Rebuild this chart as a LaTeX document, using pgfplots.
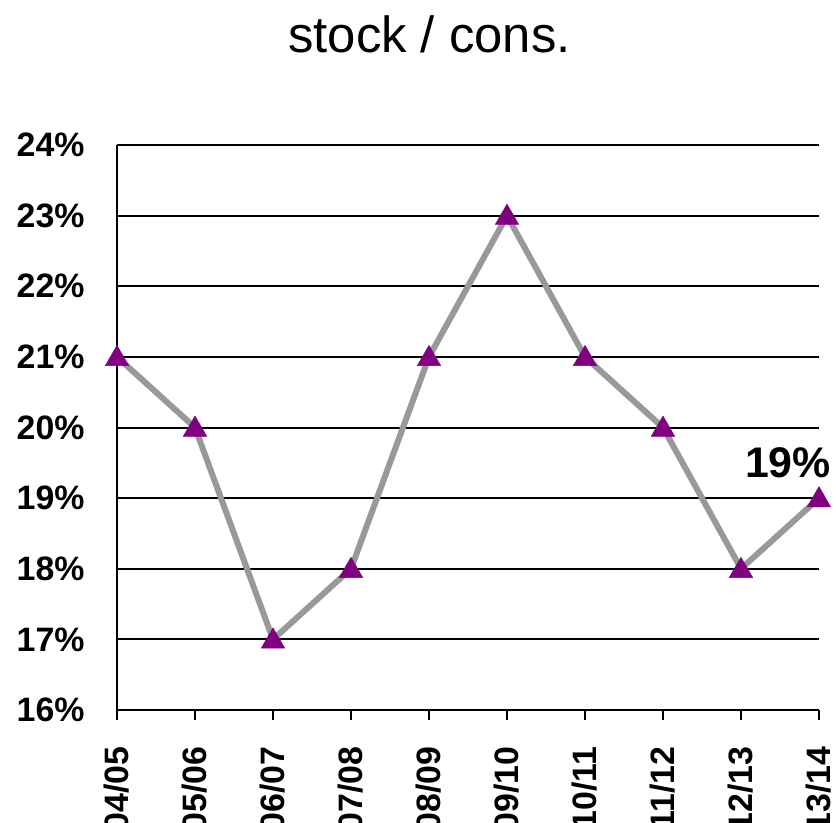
\documentclass[border=0pt]{standalone}
\usepackage{pgfplots}
\pgfplotsset{compat=1.18}
\usepackage{fontspec}
\setmainfont{Liberation Sans}
\definecolor{lineg}{HTML}{999999}
\definecolor{mpurple}{HTML}{800080}
\begin{document}
\begin{tikzpicture}
\begin{axis}[at={(117bp,-710bp)}, anchor=south west, scale only axis,
  width=702bp, height=565bp,
  xmin=0, xmax=9, ymin=16, ymax=24,
  clip=false,
  axis x line*=bottom, axis y line*=left,
  axis line style={line width=2bp, -, black},
  xtick={0,...,9},
  xticklabels={04/05,05/06,06/07,07/08,08/09,09/10,10/11,11/12,12/13,13/14},
  x tick label style={yshift=-23bp, rotate=90, anchor=east, font=\bfseries\fontsize{34}{34}\selectfont},
  ytick={16,...,24},
  yticklabels={16\%,17\%,18\%,19\%,20\%,21\%,22\%,23\%,24\%},
  y tick label style={font=\bfseries\fontsize{34}{34}\selectfont, xshift=-29bp},
  ymajorgrids, grid style={black, line width=2bp},
  major tick length=10bp, xtick align=outside,
  xtick style={black, line width=2bp},
  ytick style={draw=none},
]
\addplot[lineg, line width=6bp, mark=triangle*, mark size=13.5bp,
  mark options={fill=mpurple, draw=mpurple, line width=0.5bp, yshift=-2bp}]
  coordinates {(0,21) (1,20) (2,17) (3,18) (4,21) (5,23) (6,21) (7,20) (8,18) (9,19)};
\node[anchor=base, font=\bfseries\fontsize{43}{43}\selectfont, inner sep=0pt]
  at ([xshift=-31bp, yshift=21bp]axis cs:9,19) {19\%};
\end{axis}
\node[anchor=base, font=\fontsize{51}{51}\selectfont, inner sep=0pt] at (429.5bp,-52bp) {stock / cons.};
\pgfresetboundingbox
\path[use as bounding box] (0,0) rectangle (836bp,-823bp);
\end{tikzpicture}
\end{document}
